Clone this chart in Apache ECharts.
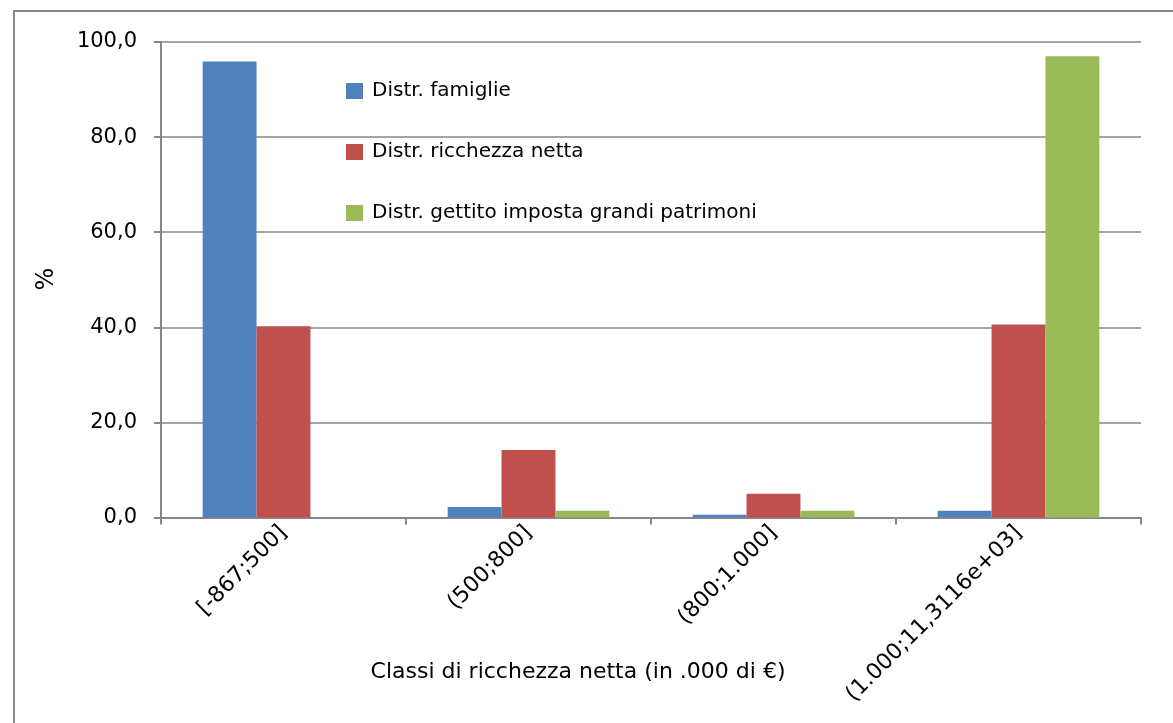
<!DOCTYPE html>
<html>
<head>
<meta charset="utf-8">
<script src="https://cdn.jsdelivr.net/npm/echarts@6/dist/echarts.min.js"></script>
<style>
html,body{margin:0;padding:0;background:#fff;}
#c{width:1173px;height:723px;}
</style>
</head>
<body>
<div id="c"></div>
<script>
const categories = ['[-867;500]', '(500;800]', '(800;1.000]', '(1.000;11,3116e+03]'];
const seriesNames = ['Distr. famiglie', 'Distr. ricchezza netta', 'Distr. gettito imposta grandi patrimoni'];
const famiglie = [95.9, 2.2, 0.6, 1.4];
const ricchezza = [40.2, 14.2, 5.0, 40.6];
const gettito = [0.0, 1.4, 1.4, 97.0];
const yTicks = [0, 20, 40, 60, 80, 100];
const colors = ['#4F81BD', '#C0504D', '#9BBB59'];
const FONT = 'DejaVu Sans';

const chart = echarts.init(document.getElementById('c'), null, {renderer: 'canvas'});
const values = [famiglie, ricchezza, gettito];
chart.setOption({
  animation: false,
  backgroundColor: '#fff',
  grid: {left: 161, right: 32, top: 42, bottom: 205.5, containLabel: false},
  legend: {
    orient: 'vertical',
    left: 341, top: 76,
    itemWidth: 17, itemHeight: 16, itemGap: 41,
    icon: 'rect',
    textStyle: {fontFamily: FONT, fontSize: 20, color: '#000', lineHeight: 20, padding: [0,0,0,4]},
    data: seriesNames
  },
  xAxis: {
    type: 'category',
    data: categories,
    axisLine: {lineStyle: {color: '#868686', width: 2}},
    axisTick: {show: true, length: 7, lineStyle: {color: '#868686', width: 2}},
    axisLabel: {rotate: 45, fontFamily: FONT, fontSize: 22, color: '#000', margin: 12, interval: 0}
  },
  yAxis: {
    type: 'value',
    min: yTicks[0], max: yTicks[yTicks.length - 1], interval: 20,
    axisLine: {show: true, lineStyle: {color: '#868686', width: 2}},
    axisTick: {show: true, length: 7, lineStyle: {color: '#868686', width: 2}},
    splitLine: {lineStyle: {color: '#868686', width: 1.5}},
    axisLabel: {fontFamily: FONT, fontSize: 21, color: '#000', margin: 24,
      formatter: v => v.toFixed(1).replace('.', ',')}
  },
  graphic: [
    {type: 'rect', shape: {x: 14, y: 11, width: 1300, height: 900},
     style: {fill: 'none', stroke: '#888', lineWidth: 2}, z: 100},
    {type: 'text', x: 578, y: 672, style: {text: 'Classi di ricchezza netta (in .000 di €)', fontFamily: FONT, fontSize: 22, fill: '#000', align: 'center', verticalAlign: 'middle'}},
    {type: 'text', x: 47, y: 279, rotation: Math.PI / 2, style: {text: '%', fontFamily: FONT, fontSize: 24, fill: '#000', align: 'center', verticalAlign: 'middle'}}
  ],
  series: seriesNames.map((n, i) => ({
    name: n, type: 'bar', data: values[i],
    barGap: '0%', barCategoryGap: '34%',
    itemStyle: {color: colors[i]}
  }))
});
</script>
</body>
</html>
